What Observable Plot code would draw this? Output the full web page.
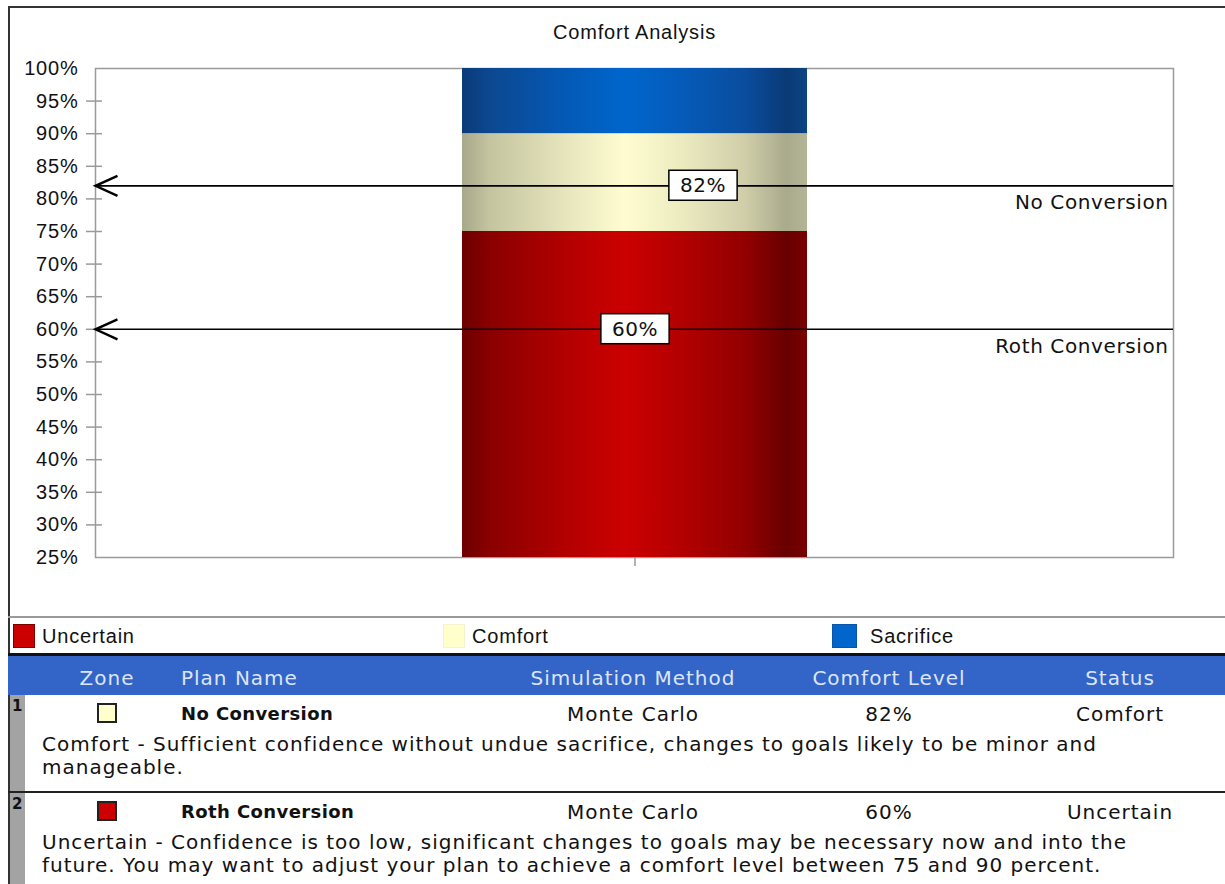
<!DOCTYPE html>
<html>
<head>
<meta charset="utf-8">
<script src="https://cdn.jsdelivr.net/npm/d3@7"></script>
<script src="https://cdn.jsdelivr.net/npm/@observablehq/plot@0.6"></script>
<style>
  html, body { margin: 0; padding: 0; background: #fff; }
  body { width: 1225px; height: 884px; overflow: hidden; position: relative; font-family: "Liberation Sans", Arial, sans-serif; color: #111; }
  #outer { position: absolute; left: 8px; top: 6px; width: 1240px; height: 900px; border-left: 2px solid #333; border-top: 2px solid #333; }
  #chart { position: absolute; left: 0; top: 0; }
  #chart svg text { letter-spacing: 0.8px; }
  #chart svg text.dv { letter-spacing: 0.6px; }
  .abs { position: absolute; white-space: nowrap; }
  #legendline { position: absolute; left: 8px; top: 616px; width: 1217px; height: 0; border-top: 2px solid #9a9a9a; }
  .lg-sw { position: absolute; width: 23px; height: 24px; top: 624px; box-sizing: border-box; }
  .lg-tx { position: absolute; top: 624px; line-height: 24px; font-size: 20px; letter-spacing: 0.8px; font-family: "Liberation Sans", Arial, sans-serif; }
  #blackline { position: absolute; left: 8px; top: 653px; width: 1217px; height: 3px; background: #111; }
  #header { position: absolute; left: 8px; top: 656px; width: 1217px; height: 39px; background: #3364c8; }
  .tb { font-family: "DejaVu Sans", Verdana, sans-serif; font-size: 20px; letter-spacing: 1px; line-height: 24px; }
  .hd { color: #dce6fa; }
  #stripe { position: absolute; left: 10px; top: 695px; width: 15px; height: 200px; background: #a3a3a3; }
  .sep { position: absolute; left: 8px; width: 1217px; height: 2px; background: #222; }
  .num { position: absolute; left: 12px; font-family: "DejaVu Sans", Verdana, sans-serif; font-weight: bold; font-size: 15px; line-height: 18px; color: #111; }
  .zsw { position: absolute; left: 97px; width: 20px; height: 20px; box-sizing: border-box; border: 2px solid #222; }
  .pname { font-weight: bold; font-size: 18px; letter-spacing: 0.4px; }
  .desc { position: absolute; left: 42px; width: 1160px; white-space: normal; line-height: 22.5px; }
</style>
</head>
<body>
<div id="outer"></div>
<div id="chart"></div>
<div id="legend"></div>
<div id="table"></div>
<script>
// ---------- data ----------
const chartTitle = "Comfort Analysis";
const categories = ["Comfort Analysis"];
const zoneNames = ["Uncertain", "Comfort", "Sacrifice"];
const zoneLow = [25, 75, 90];
const zoneHigh = [75, 90, 100];
const zoneColors = ["#cc0000", "#ffffcc", "#0066cc"];
const yTicks = [25, 30, 35, 40, 45, 50, 55, 60, 65, 70, 75, 80, 85, 90, 95, 100];
const yTickMarks = [30, 35, 40, 45, 50, 55, 60, 65, 70, 75, 80, 85, 90, 95];
const planNames = ["No Conversion", "Roth Conversion"];
const comfortLevels = [82, 60];
const simulationMethods = ["Monte Carlo", "Monte Carlo"];
const planStatus = ["Comfort", "Uncertain"];
const planZoneColors = ["#ffffcc", "#cc0000"];
const statusDescriptions = [
  "Comfort - Sufficient confidence without undue sacrifice, changes to goals likely to be minor and manageable.",
  "Uncertain - Confidence is too low, significant changes to goals may be necessary now and into the future. You may want to adjust your plan to achieve a comfort level between 75 and 90 percent."
];
const tableHeaders = ["Zone", "Plan Name", "Simulation Method", "Comfort Level", "Status"];

// ---------- gradients (cylinder shading) ----------
const gradients = {
  Uncertain: [[0, "#6c0000"], [0.08, "#8a0000"], [0.3, "#b30000"], [0.47, "#cc0000"], [0.62, "#b60000"], [0.82, "#930000"], [0.94, "#680000"], [1, "#7a0000"]],
  Comfort: [[0, "#a8a88a"], [0.08, "#c4c4a0"], [0.3, "#e6e5bc"], [0.47, "#fffcd0"], [0.62, "#eeedc2"], [0.82, "#d0cea9"], [0.94, "#aaaa8c"], [1, "#b4b496"]],
  Sacrifice: [[0, "#0a3a78"], [0.08, "#0c4890"], [0.3, "#0459b6"], [0.47, "#0066cc"], [0.62, "#055cbc"], [0.82, "#0a4d9e"], [0.94, "#0a3a76"], [1, "#0c4483"]]
};

const zoneRows = zoneNames.map((z, i) => ({cat: categories[0], zone: z, low: zoneLow[i], high: zoneHigh[i], grad: `url(#grad-${z})`}));
const planRows = planNames.map((p, i) => ({cat: categories[0], plan: p, level: comfortLevels[i]}));
const valueLabels = comfortLevels.map(v => v + "%");

const chevron = {
  draw(ctx, size) {
    const r = Math.sqrt(size / Math.PI);
    ctx.moveTo(2.2 * r, -r);
    ctx.lineTo(0, 0);
    ctx.lineTo(2.2 * r, r);
  }
};

const dejavu = '"DejaVu Sans", Verdana, sans-serif';

const plot = Plot.plot({
  width: 1225,
  height: 600,
  marginLeft: 95,
  marginRight: 52,
  marginTop: 68,
  marginBottom: 43,
  style: {fontFamily: '"Liberation Sans", Arial, sans-serif', fontSize: "20px", color: "#111", background: "transparent", overflow: "visible"},
  x: {domain: categories, padding: 0.515},
  y: {domain: [25, 100]},
  color: {type: "identity"},
  marks: [
    Plot.frame({stroke: "#9a9a9a", strokeWidth: 1.5}),
    Plot.axisY({ticks: yTickMarks, tickSize: 16, dx: 7, tickFormat: () => "", label: null, stroke: "#9a9a9a", strokeWidth: 1.5}),
    Plot.axisY({ticks: yTicks, tickSize: 0, tickPadding: 17, tickFormat: d => d + "%", label: null}),
    Plot.axisX({tickSize: 9, tickFormat: () => "", label: null, stroke: "#9a9a9a", strokeWidth: 1.5}),
    Plot.barY(zoneRows, {x: "cat", y1: "low", y2: "high", fill: "grad"}),
    Plot.ruleY(comfortLevels, {stroke: "#000", strokeWidth: 1.6}),
    Plot.dot(comfortLevels, {y: d => d, frameAnchor: "left", symbol: chevron, r: 10, stroke: "#000", strokeWidth: 2.4, fill: "none"}),
    Plot.text(planRows, {y: "level", text: "plan", frameAnchor: "right", textAnchor: "end", dx: -5, dy: 17, fontFamily: dejavu}),
    Plot.text(planRows.slice(0, 1), {x: "cat", y: "level", text: d => d.level + "%", dx: 68, fontFamily: dejavu}),
    Plot.text(planRows.slice(1, 2), {x: "cat", y: "level", text: d => d.level + "%", dx: 0, fontFamily: dejavu}),
    Plot.text([chartTitle], {frameAnchor: "top", lineAnchor: "middle", dy: -36, text: d => d})
  ]
});

// gradient definitions
const defs = d3.select(plot).insert("defs", ":first-child");
for (const [name, stops] of Object.entries(gradients)) {
  const g = defs.append("linearGradient").attr("id", `grad-${name}`).attr("x1", "0").attr("x2", "1").attr("y1", "0").attr("y2", "0");
  for (const [o, c] of stops) g.append("stop").attr("offset", o).attr("stop-color", c);
}
document.getElementById("chart").append(plot);

// mark Verdana-like texts and put boxes behind the value labels (not the axis labels)
for (const t of plot.querySelectorAll("text")) {
  if (t.closest('[aria-label*="axis"]')) continue;
  const s = t.textContent;
  if (planNames.includes(s) || valueLabels.includes(s)) t.setAttribute("class", "dv");
  if (!valueLabels.includes(s)) continue;
  const b = t.getBBox();
  const rect = document.createElementNS("http://www.w3.org/2000/svg", "rect");
  rect.setAttribute("x", b.x - 11);
  rect.setAttribute("y", b.y - 3);
  rect.setAttribute("width", b.width + 22);
  rect.setAttribute("height", b.height + 6);
  rect.setAttribute("fill", "#fff");
  rect.setAttribute("stroke", "#000");
  rect.setAttribute("stroke-width", "1.5");
  if (t.getAttribute("transform")) rect.setAttribute("transform", t.getAttribute("transform"));
  t.parentNode.insertBefore(rect, t);
}

// ---------- legend ----------
const legend = document.getElementById("legend");
const legendSwatchX = [13, 443, 832];
const legendBorders = ["#7a0000", "#f4f4d0", "#0a55aa"];
legend.innerHTML = `<div id="legendline"></div>` + zoneNames.map((z, i) =>
  `<div class="lg-sw" style="left:${legendSwatchX[i]}px;width:${i === 2 ? 25 : 22}px;background:${zoneColors[i]};border:1px solid ${legendBorders[i]}"></div>` +
  `<div class="lg-tx" style="left:${legendSwatchX[i] + (i === 2 ? 38 : 29)}px">${z}</div>`
).join("");

// ---------- table ----------
const table = document.getElementById("table");
const colCenters = [107, null, 633, 889, 1120];
let html = `<div id="blackline"></div><div id="header"></div><div id="stripe"></div>`;
tableHeaders.forEach((h, i) => {
  if (i === 1) html += `<div class="abs tb hd" style="left:181px;top:666px">${h}</div>`;
  else html += `<div class="abs tb hd" style="left:${colCenters[i]}px;top:666px;transform:translateX(-50%)">${h}</div>`;
});
const rowTops = [695, 793];
planNames.forEach((p, i) => {
  const top = rowTops[i];
  if (i > 0) html += `<div class="sep" style="top:${top - 2}px"></div>`;
  html += `<div class="num" style="top:${top + 2}px">${i + 1}</div>`;
  html += `<div class="zsw" style="top:${top + 8}px;background:${planZoneColors[i]}"></div>`;
  html += `<div class="abs tb pname" style="left:181px;top:${top + 7}px">${p}</div>`;
  html += `<div class="abs tb" style="left:${colCenters[2]}px;top:${top + 7}px;transform:translateX(-50%)">${simulationMethods[i]}</div>`;
  html += `<div class="abs tb" style="left:${colCenters[3]}px;top:${top + 7}px;transform:translateX(-50%)">${comfortLevels[i]}%</div>`;
  html += `<div class="abs tb" style="left:${colCenters[4]}px;top:${top + 7}px;transform:translateX(-50%)">${planStatus[i]}</div>`;
  html += `<div class="desc tb" style="top:${top + 38}px">${statusDescriptions[i]}</div>`;
});
table.innerHTML = html;
</script>
</body>
</html>
